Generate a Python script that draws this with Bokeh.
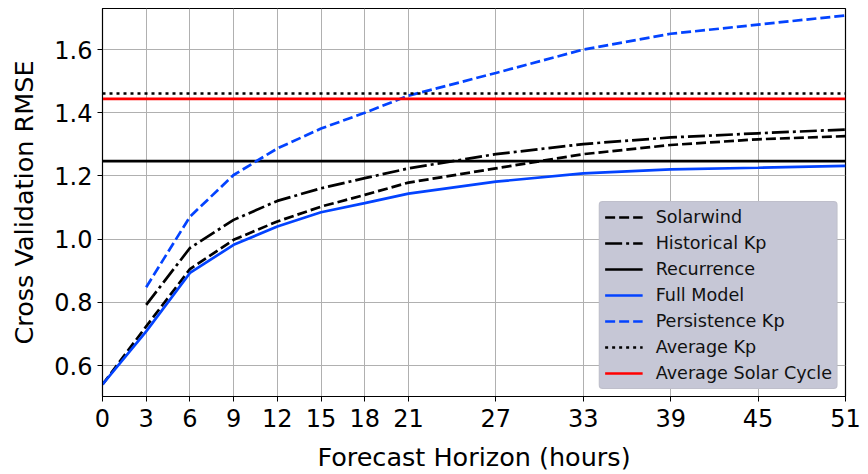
from bokeh.plotting import figure
from bokeh.models import Range1d, FixedTicker, PrintfTickFormatter, Legend, LegendItem
from bokeh.embed import file_html
from bokeh.resources import INLINE

# ---- data ----
hours = [0, 3, 6, 9, 12, 15, 18, 21, 27, 33, 39, 45, 51]
full_model = [0.540, 0.708, 0.893, 0.982, 1.040, 1.085, 1.114, 1.144, 1.182, 1.208, 1.221, 1.226, 1.232]
solarwind = [0.540, 0.724, 0.905, 0.998, 1.056, 1.103, 1.140, 1.179, 1.224, 1.269, 1.298, 1.316, 1.326]
hist_hours = [3, 6, 9, 12, 15, 18, 21, 27, 33, 39, 45, 51]
historical_kp = [0.792, 0.972, 1.061, 1.121, 1.161, 1.193, 1.224, 1.269, 1.301, 1.322, 1.335, 1.347]
persistence_kp = [0.848, 1.071, 1.203, 1.287, 1.350, 1.400, 1.454, 1.526, 1.600, 1.650, 1.679, 1.708]
recurrence = 1.247
average_kp = 1.461
average_solar_cycle = 1.444
y_ticks = [0.6, 0.8, 1.0, 1.2, 1.4, 1.6]

FONT = "DejaVu Sans"
BLUE = "#0343ff"

p = figure(width=868, height=474, output_backend="svg", toolbar_location=None,
           x_range=Range1d(0, 51), y_range=Range1d(0.502, 1.730),
           min_border_left=102, min_border_right=23, min_border_top=8, min_border_bottom=77)
p.outline_line_color = "black"
p.outline_line_width = 1.2
p.background_fill_color = "white"

for ax in (p.xaxis[0], p.yaxis[0]):
    ax.major_label_text_font = FONT
    ax.major_label_text_font_size = "24px"
    ax.major_label_text_color = "black"
    ax.axis_label_text_font = FONT
    ax.axis_label_text_font_size = "25.5px"
    ax.axis_label_text_font_style = "normal"
    ax.axis_label_text_color = "black"
    ax.minor_tick_line_color = None
    ax.major_tick_out = 5
    ax.major_tick_in = 0
    ax.major_tick_line_color = "black"
    ax.axis_line_color = "black"

p.xaxis.ticker = FixedTicker(ticks=hours)
p.yaxis.ticker = FixedTicker(ticks=y_ticks)
p.yaxis.formatter = PrintfTickFormatter(format="%.1f")
p.xaxis.axis_label = "Forecast Horizon (hours)"
p.yaxis.axis_label = "Cross Validation RMSE"
p.xaxis.major_label_standoff = 7
p.yaxis.major_label_standoff = 5
p.xaxis.axis_label_standoff = 12
p.yaxis.axis_label_standoff = 12

p.grid.grid_line_color = "#b0b0b0"
p.grid.grid_line_width = 1

LW = 2.7
span_x = [hours[0], hours[-1]]

r_sw = p.line(hours, solarwind, line_color="black", line_width=LW, line_dash="10 4")
r_hk = p.line(hist_hours, historical_kp, line_color="black", line_width=LW, line_dash="17 4 3 4")
r_rec = p.line(span_x, [recurrence] * 2, line_color="black", line_width=LW)
r_fm = p.line(hours, full_model, line_color=BLUE, line_width=LW)
r_pk = p.line(hist_hours, persistence_kp, line_color=BLUE, line_width=LW, line_dash="10 4")
r_ak = p.line(span_x, [average_kp] * 2, line_color="black", line_width=LW, line_dash="3 4")
r_asc = p.line(span_x, [average_solar_cycle] * 2, line_color="red", line_width=LW)

legend = Legend(items=[
    LegendItem(label="Solarwind", renderers=[r_sw]),
    LegendItem(label="Historical Kp", renderers=[r_hk]),
    LegendItem(label="Recurrence", renderers=[r_rec]),
    LegendItem(label="Full Model", renderers=[r_fm]),
    LegendItem(label="Persistence Kp", renderers=[r_pk]),
    LegendItem(label="Average Kp", renderers=[r_ak]),
    LegendItem(label="Average Solar Cycle", renderers=[r_asc]),
], location="bottom_right")
legend.margin = 7
legend.padding = 5
legend.spacing = 6
legend.glyph_height = 20
legend.label_height = 20
legend.glyph_width = 38
legend.label_standoff = 13
legend.label_text_font = FONT
legend.label_text_font_size = "17.6px"
legend.label_text_color = "#111111"
legend.background_fill_color = "#c6c7d6"
legend.background_fill_alpha = 1.0
legend.border_line_color = "#b8b8c0"
legend.border_line_width = 1
legend.border_radius = 4
p.add_layout(legend, "center")

open("out.html", "w").write(file_html(p, INLINE))
